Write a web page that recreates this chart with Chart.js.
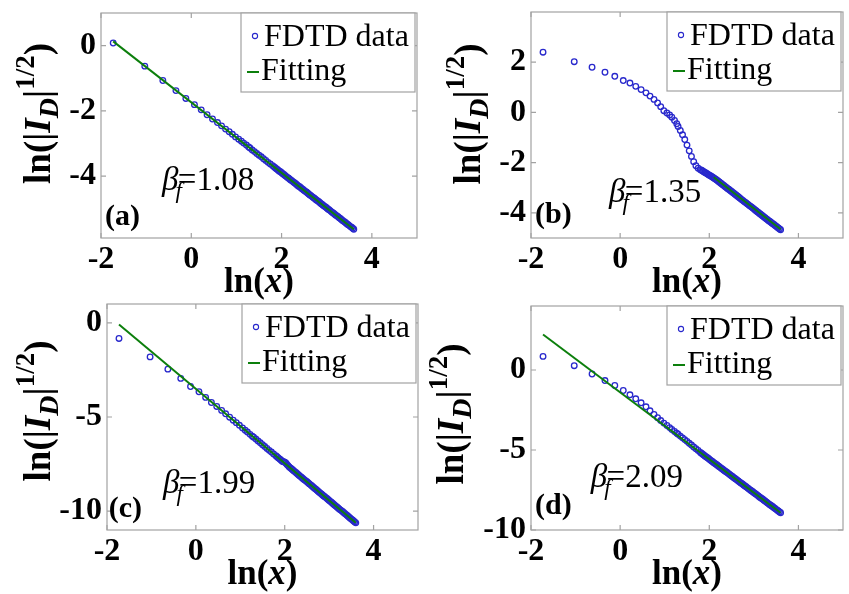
<!DOCTYPE html>
<html lang="en">
<head>
  <meta charset="UTF-8" />
  <title>FDTD data and fitting</title>
  <script src="https://cdn.jsdelivr.net/npm/chart.js"></script>
  <style>
    body { margin: 0; background: #fff; width: 849px; height: 594px; position: relative; overflow: hidden; }
    canvas { position: absolute; }
  </style>
</head>
<body>
<canvas id="pa"></canvas>
<canvas id="pb"></canvas>
<canvas id="pc"></canvas>
<canvas id="pd"></canvas>
<script>
  // ln(x) sampling, shared by the four panels
  const lnX = [-1.73, -1.03, -0.63, -0.34, -0.12, 0.07, 0.22, 0.35, 0.47, 0.58,
    0.67, 0.76, 0.84, 0.91, 0.98, 1.05, 1.11, 1.16, 1.22, 1.27,
    1.30, 1.35, 1.40, 1.45, 1.50, 1.55, 1.60, 1.65, 1.70, 1.75,
    1.800, 1.825, 1.850, 1.875, 1.900, 1.925, 1.950, 1.975, 2.000,
    2.025, 2.050, 2.075, 2.100, 2.125, 2.150, 2.175, 2.200, 2.225, 2.250,
    2.275, 2.300, 2.325, 2.350, 2.375, 2.400, 2.425, 2.450, 2.475, 2.500,
    2.525, 2.550, 2.575, 2.600, 2.625, 2.650, 2.675, 2.700, 2.725, 2.750,
    2.775, 2.800, 2.825, 2.850, 2.875, 2.900, 2.925, 2.950, 2.975, 3.000,
    3.025, 3.050, 3.075, 3.100, 3.125, 3.150, 3.175, 3.200, 3.225, 3.250,
    3.275, 3.300, 3.325, 3.350, 3.375, 3.400, 3.425, 3.450, 3.475, 3.500,
    3.525, 3.550, 3.575, 3.600];

  // FDTD data, ln(|I_D|^(1/2))
  const yA = [0.08, -0.63, -1.07, -1.38, -1.62, -1.81, -1.97, -2.12, -2.25, -2.36,
    -2.46, -2.56, -2.64, -2.72, -2.80, -2.87, -2.93, -2.99, -3.05, -3.11,
    -3.14, -3.20, -3.25, -3.31, -3.36, -3.41, -3.47, -3.52, -3.58, -3.63,
    -3.68, -3.71, -3.74, -3.77, -3.79, -3.82, -3.85, -3.87, -3.90,
    -3.93, -3.95, -3.98, -4.01, -4.04, -4.06, -4.09, -4.12, -4.14, -4.17,
    -4.20, -4.22, -4.25, -4.28, -4.31, -4.33, -4.36, -4.39, -4.41, -4.44,
    -4.47, -4.49, -4.52, -4.55, -4.58, -4.60, -4.63, -4.66, -4.68, -4.71,
    -4.74, -4.76, -4.79, -4.82, -4.85, -4.87, -4.90, -4.93, -4.95, -4.98,
    -5.01, -5.03, -5.06, -5.09, -5.12, -5.14, -5.17, -5.20, -5.22, -5.25,
    -5.28, -5.30, -5.33, -5.36, -5.39, -5.41, -5.44, -5.47, -5.49, -5.52,
    -5.55, -5.57, -5.60, -5.63];
  const yB = [2.40, 2.02, 1.80, 1.60, 1.44, 1.27, 1.17, 1.04, 0.91, 0.78,
    0.65, 0.52, 0.38, 0.23, 0.07, -0.02, -0.10, -0.19, -0.32, -0.45,
    -0.56, -0.72, -0.89, -1.08, -1.30, -1.53, -1.75, -1.96, -2.12, -2.22,
    -2.28, -2.30, -2.33, -2.36, -2.39, -2.41, -2.44, -2.47, -2.50,
    -2.52, -2.55, -2.58, -2.61, -2.64, -2.67, -2.70, -2.74, -2.77, -2.81,
    -2.84, -2.88, -2.91, -2.95, -2.98, -3.02, -3.05, -3.08, -3.12, -3.15,
    -3.19, -3.22, -3.26, -3.29, -3.33, -3.36, -3.40, -3.43, -3.47, -3.50,
    -3.54, -3.57, -3.60, -3.64, -3.67, -3.71, -3.74, -3.77, -3.81, -3.84,
    -3.88, -3.91, -3.95, -3.98, -4.02, -4.05, -4.09, -4.12, -4.16, -4.19,
    -4.23, -4.26, -4.30, -4.33, -4.36, -4.40, -4.43, -4.46, -4.50, -4.53,
    -4.57, -4.60, -4.64, -4.67];
  const yC = [-0.83, -1.81, -2.46, -2.95, -3.38, -3.66, -3.96, -4.23, -4.44, -4.65,
    -4.83, -5.01, -5.17, -5.30, -5.44, -5.58, -5.70, -5.80, -5.92, -6.02,
    -6.07, -6.17, -6.27, -6.37, -6.47, -6.57, -6.67, -6.77, -6.86, -6.96,
    -7.06, -7.11, -7.16, -7.21, -7.26, -7.31, -7.36, -7.38, -7.40,
    -7.44, -7.52, -7.58, -7.65, -7.70, -7.75, -7.80, -7.85, -7.90, -7.95,
    -8.00, -8.05, -8.10, -8.15, -8.20, -8.25, -8.30, -8.35, -8.39, -8.44,
    -8.49, -8.54, -8.59, -8.64, -8.69, -8.74, -8.79, -8.84, -8.89, -8.94,
    -8.99, -9.04, -9.09, -9.14, -9.19, -9.23, -9.28, -9.33, -9.38, -9.43,
    -9.48, -9.53, -9.58, -9.63, -9.68, -9.73, -9.78, -9.83, -9.88, -9.93,
    -9.97, -10.02, -10.07, -10.12, -10.17, -10.22, -10.27, -10.32, -10.37, -10.42,
    -10.47, -10.52, -10.57, -10.62];
  const yD = [0.85, 0.27, -0.25, -0.66, -0.97, -1.28, -1.55, -1.80, -2.05, -2.30,
    -2.55, -2.78, -2.98, -3.16, -3.32, -3.47, -3.60, -3.72, -3.84, -3.95,
    -4.02, -4.13, -4.24, -4.35, -4.46, -4.58, -4.69, -4.81, -4.92, -5.03,
    -5.15, -5.20, -5.26, -5.31, -5.37, -5.42, -5.47, -5.52, -5.58,
    -5.63, -5.68, -5.73, -5.79, -5.84, -5.89, -5.94, -6.00, -6.05, -6.10,
    -6.15, -6.20, -6.26, -6.31, -6.36, -6.41, -6.46, -6.52, -6.57, -6.62,
    -6.67, -6.73, -6.78, -6.83, -6.88, -6.93, -6.99, -7.04, -7.09, -7.14,
    -7.20, -7.25, -7.30, -7.35, -7.41, -7.46, -7.51, -7.56, -7.61, -7.67,
    -7.72, -7.77, -7.82, -7.87, -7.93, -7.98, -8.03, -8.08, -8.14, -8.19,
    -8.24, -8.29, -8.35, -8.40, -8.45, -8.50, -8.55, -8.61, -8.66, -8.71,
    -8.76, -8.81, -8.87, -8.92];

  // fitted lines (end points)
  const fitXA = [-1.73, 3.60], fitYA = [0.13, -5.63];
  const fitXB = [2.10, 3.60], fitYB = [-2.58, -4.65];
  const fitXC = [-1.73, 3.60], fitYC = [-0.09, -10.62];
  const fitXD = [-1.73, 3.60], fitYD = [2.22, -8.92];

  // ticks and labels
  const xTicks = [-2, 0, 2, 4];
  const yTicksA = [-4, -2, 0];
  const yTicksB = [-4, -2, 0, 2];
  const yTicksC = [-10, -5, 0];
  const yTicksD = [-10, -5, 0];
  const betaValues = ['1.08', '1.35', '1.99', '2.09'];
  const panelTags = ['(a)', '(b)', '(c)', '(d)'];
  const legendLabels = ['FDTD data', 'Fitting'];

  const FONT = "'Liberation Serif', 'Times New Roman', serif";
  const BLUE = '#2828cc';
  const GREEN = '#0c7f0c';
  const GRAY = '#a2a2a2';

  // canvas box + plot rectangle (page px) for each panel
  const panels = [
    { id: 'pa', cx: 0, cy: 0, cw: 425, ch: 305, l: 101, r: 417, t: 13, b: 238, ymin: -5.9, ymax: 1,
      y: yA, fx: fitXA, fy: fitYA, yt: yTicksA, tOff: 51, tShift: -12, beta: [-0.65, -4.43], tag: [-1.91, -5.49] },
    { id: 'pb', cx: 425, cy: 0, cw: 424, ch: 305, l: 531, r: 843, t: 12, b: 238, ymin: -5, ymax: 4,
      y: yB, fx: fitXB, fy: fitYB, yt: yTicksB, tOff: 51, tShift: -11, beta: [-0.25, -3.56], tag: [-1.91, -4.41] },
    { id: 'pc', cx: 0, cy: 297, cw: 425, ch: 297, l: 107, r: 418, t: 304, b: 530, ymin: -11, ymax: 1,
      y: yC, fx: fitXC, fy: fitYC, yt: yTicksC, tOff: 57, tShift: -6, beta: [-0.74, -9.03], tag: [-1.96, -10.3] },
    { id: 'pd', cx: 425, cy: 297, cw: 424, ch: 297, l: 531, r: 843, t: 306, b: 530, ymin: -10, ymax: 4,
      y: yD, fx: fitXD, fy: fitYD, yt: yTicksD, tOff: 68, tShift: -4, beta: [-0.66, -7.31], tag: [-1.91, -8.98] }
  ];

  function drawParts(ctx, parts, x, y) {
    let cx = x;
    parts.forEach(p => {
      ctx.font = p.font;
      cx += p.kern || 0;
      ctx.fillText(p.text, cx, y + (p.dy || 0));
      cx += ctx.measureText(p.text).width;
    });
    return cx - x;
  }
  function partsWidth(ctx, parts) {
    let w = 0;
    parts.forEach(p => { ctx.font = p.font; w += (p.kern || 0) + ctx.measureText(p.text).width; });
    return w;
  }

  const yTitleParts = [
    { text: 'ln(|', font: `bold 37px ${FONT}` },
    { text: 'I', font: `italic bold 37px ${FONT}` },
    { text: 'D', font: `italic bold 28px ${FONT}`, dy: 8 },
    { text: '|', font: `bold 37px ${FONT}` },
    { text: '1/2', font: `bold 27px ${FONT}`, dy: -16 },
    { text: ')', font: `bold 37px ${FONT}` }
  ];
  const xTitleParts = [
    { text: 'ln(', font: `bold 35px ${FONT}` },
    { text: 'x', font: `italic bold 35px ${FONT}` },
    { text: ')', font: `bold 35px ${FONT}` }
  ];

  const framePlugin = {
    id: 'frame',
    afterDatasetsDraw(chart) {
      const { ctx, chartArea: a, scales: { x, y } } = chart;
      ctx.save();
      ctx.strokeStyle = GRAY;
      ctx.lineWidth = 1.2;
      ctx.strokeRect(a.left, a.top, a.right - a.left, a.bottom - a.top);
      ctx.beginPath();
      x.ticks.forEach(t => {
        const p = x.getPixelForValue(t.value);
        ctx.moveTo(p, a.bottom); ctx.lineTo(p, a.bottom - 5);
        ctx.moveTo(p, a.top); ctx.lineTo(p, a.top + 5);
      });
      y.ticks.forEach(t => {
        const p = y.getPixelForValue(t.value);
        ctx.moveTo(a.left, p); ctx.lineTo(a.left + 5, p);
        ctx.moveTo(a.right, p); ctx.lineTo(a.right - 5, p);
      });
      ctx.stroke();
      ctx.restore();
    },
    afterDraw(chart, args, o) {
      const P = o.panel, i = o.index;
      const { ctx, chartArea: a, scales: { x, y } } = chart;
      ctx.save();
      ctx.textBaseline = 'alphabetic';
      ctx.textAlign = 'left';

      // legend
      const bw = 174, bh = 79;
      const bx = a.right - 2 - bw, by = a.top;
      ctx.fillStyle = '#fff';
      ctx.fillRect(bx, by, bw, bh);
      ctx.strokeStyle = GRAY;
      ctx.lineWidth = 1.2;
      ctx.strokeRect(bx, by, bw, bh);
      ctx.strokeStyle = BLUE;
      ctx.lineWidth = 1.1;
      ctx.beginPath();
      ctx.arc(bx + 14, by + 23, 2.6, 0, Math.PI * 2);
      ctx.stroke();
      ctx.strokeStyle = GREEN;
      ctx.lineWidth = 2;
      ctx.beginPath();
      ctx.moveTo(bx + 6, by + 59); ctx.lineTo(bx + 18, by + 59);
      ctx.stroke();
      ctx.fillStyle = '#000';
      ctx.font = `32px ${FONT}`;
      ctx.fillText(legendLabels[0], bx + 23, by + 33);
      ctx.fillText(legendLabels[1], bx + 20, by + 67);

      // beta_f annotation
      const bxp = x.getPixelForValue(P.beta[0]), byp = y.getPixelForValue(P.beta[1]);
      drawParts(ctx, [
        { text: 'β', font: `italic 33px ${FONT}` },
        { text: 'f', font: `italic 23px ${FONT}`, dy: 8, kern: -3 },
        { text: '=' + betaValues[i], font: `33px ${FONT}`, kern: -4 }
      ], bxp, byp);

      // panel tag
      ctx.font = `bold 30px ${FONT}`;
      ctx.fillText(panelTags[i], x.getPixelForValue(P.tag[0]), y.getPixelForValue(P.tag[1]));

      // x title
      const xw = partsWidth(ctx, xTitleParts);
      drawParts(ctx, xTitleParts, (a.left + a.right) / 2 - xw / 2, a.bottom + 54);

      // y title (rotated)
      const yw = partsWidth(ctx, yTitleParts);
      ctx.translate(a.left - P.tOff, (a.top + a.bottom) / 2 + P.tShift);
      ctx.rotate(-Math.PI / 2);
      drawParts(ctx, yTitleParts, -yw / 2, 0);
      ctx.restore();
    }
  };

  panels.forEach((P, i) => {
    const cv = document.getElementById(P.id);
    cv.width = P.cw; cv.height = P.ch;
    cv.style.left = P.cx + 'px'; cv.style.top = P.cy + 'px';
    const yw = P.l - P.cx, pr = P.cx + P.cw - P.r, pt = P.t - P.cy, xh = P.cy + P.ch - P.b;
    const tickFont = { family: FONT, size: 32, weight: 'bold' };

    new Chart(cv.getContext('2d'), {
      type: 'scatter',
      data: {
        datasets: [
          {
            label: legendLabels[1],
            data: P.fx.map((v, k) => ({ x: v, y: P.fy[k] })),
            showLine: true,
            borderColor: GREEN,
            borderWidth: 2,
            pointRadius: 0,
            order: 0
          },
          {
            label: legendLabels[0],
            data: lnX.map((v, k) => ({ x: v, y: P.y[k] })),
            pointStyle: 'circle',
            pointRadius: 2.8,
            borderWidth: 1.3,
            borderColor: BLUE,
            backgroundColor: 'rgba(0,0,0,0)',
            order: 1
          }
        ]
      },
      options: {
        responsive: false,
        animation: false,
        devicePixelRatio: 1,
        layout: { padding: { left: 0, right: pr, top: pt, bottom: 0 } },
        plugins: {
          legend: { display: false },
          tooltip: { enabled: false },
          frame: { panel: P, index: i }
        },
        scales: {
          x: {
            type: 'linear', min: -2, max: 5,
            afterBuildTicks: s => { s.ticks = xTicks.map(v => ({ value: v })); },
            afterFit: s => { s.height = xh; s.paddingLeft = 0; s.paddingRight = 0; s.paddingTop = 0; s.paddingBottom = 0; },
            grid: { display: false, drawTicks: false },
            border: { display: false },
            ticks: { font: tickFont, color: '#000', padding: 3, maxRotation: 0, autoSkip: false, callback: v => String(v) }
          },
          y: {
            type: 'linear', min: P.ymin, max: P.ymax,
            afterBuildTicks: s => { s.ticks = P.yt.map(v => ({ value: v })); },
            afterFit: s => { s.width = yw; s.paddingLeft = 0; s.paddingRight = 0; s.paddingTop = 0; s.paddingBottom = 0; },
            grid: { display: false, drawTicks: false },
            border: { display: false },
            ticks: { font: tickFont, color: '#000', padding: 5, autoSkip: false, callback: v => String(v) }
          }
        }
      },
      plugins: [framePlugin]
    });
  });
</script>
</body>
</html>
